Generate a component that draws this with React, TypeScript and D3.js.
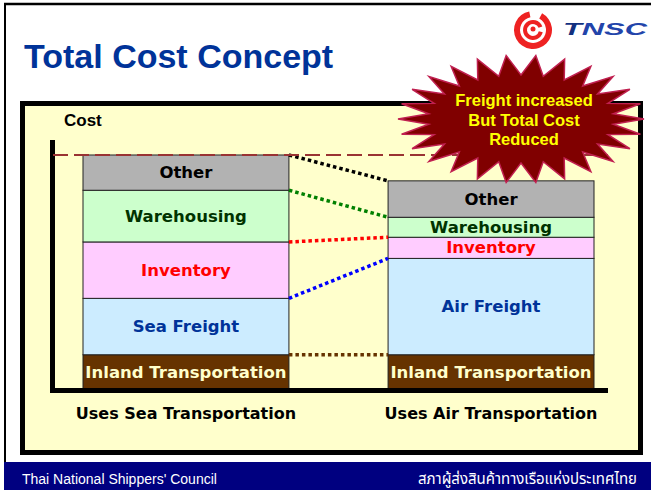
import React from 'react';
import * as d3 from 'd3';

// chart content
const categories = ['Uses Sea Transportation', 'Uses Air Transportation'];
const components = ['Inland Transportation', 'Freight', 'Inventory', 'Warehousing', 'Other'];
const seaLabels = ['Inland Transportation', 'Sea Freight', 'Inventory', 'Warehousing', 'Other'];
const airLabels = ['Inland Transportation', 'Air Freight', 'Inventory', 'Warehousing', 'Other'];
const seaCost = [15, 24, 24, 22, 15];
const airCost = [15, 41, 9, 8.5, 15.5];
const calloutLines = ['Freight increased', 'But Total Cost', 'Reduced'];

const fills = ['#663300', '#CCECFF', '#FFCCFF', '#CCFFCC', '#B2B2B2'];
const textColors = ['#FFFFCC', '#003399', '#FF0000', '#003300', '#000000'];
const linkColors = ['#663300', '#0000FF', '#FF0000', '#008000', '#000000'];

const W = 651;
const H = 490;
const verdana = "'DejaVu Sans', Verdana, sans-serif";
const tahoma = "'Liberation Sans', Arial, sans-serif";

const App = () => {
  const x = d3.scaleBand().domain(categories).range([83, 594]).paddingInner(0.325);
  const y = d3.scaleLinear().domain([0, 100]).range([390, 155]);

  const rows = categories.map((c, i) => {
    const r: any = { category: c };
    components.forEach((k, j) => { r[k] = (i === 0 ? seaCost : airCost)[j]; });
    return r;
  });
  const series = d3.stack().keys(components)(rows);
  const labelsFor = (i: number) => (i === 0 ? seaLabels : airLabels);

  const leftX = x(categories[0])! + x.bandwidth();
  const rightX = x(categories[1])!;

  // starburst callout
  const spikes = 26;
  const cx = 521, cy = 119;
  const starPts = d3.range(spikes * 2).map((i) => {
    const a = (i / (spikes * 2)) * 2 * Math.PI + Math.PI;
    const outer = i % 2 === 0;
    return [cx + (outer ? 123 : 93) * Math.cos(a), cy + (outer ? 64 : 44) * Math.sin(a)] as [number, number];
  });
  const starPath = d3.line().curve(d3.curveLinearClosed)(starPts) || '';

  const ring = d3.arc();

  return (
    <svg width={W} height={H} style={{ position: 'absolute', left: 0, top: 0, background: '#fff' }}>
      {/* slide frame */}
      <line x1={4} x2={W} y1={4} y2={4} stroke="#000" strokeWidth={2.5} />
      <line x1={5} x2={5} y1={4} y2={463} stroke="#000" strokeWidth={2} />

      <text x={24} y={68} fontFamily={tahoma} fontWeight="bold" fontSize={34} fill="#003399">
        Total Cost Concept
      </text>

      {/* logo */}
      <g transform="translate(533,30)" fill="#EE2222">
        <path d={ring({ innerRadius: 13, outerRadius: 19, startAngle: 0.5, endAngle: 2 * Math.PI - 0.2 } as any) || ''} />
        <path d={ring({ innerRadius: 6, outerRadius: 10, startAngle: 1.8, endAngle: 2 * Math.PI + 1.2 } as any) || ''} />
        <circle r={2.5} cy={-1} />
      </g>
      <text x={563} y={35} fontFamily={tahoma} fontWeight="bold" fontStyle="italic" fontSize={17}
        fill="#2244AA" textLength={84} lengthAdjust="spacingAndGlyphs">
        <tspan fill="#12307f">T</tspan>NSC
      </text>

      {/* chart box */}
      <rect x={22.5} y={103.5} width={618} height={349} fill="#FFFFCC" stroke="#000" strokeWidth={5} />

      <text x={64} y={126} fontFamily={tahoma} fontWeight="bold" fontSize={17} fill="#000">Cost</text>

      {/* stacked bars */}
      {series.map((s, k) => (
        <g key={s.key}>
          {s.map((d, i) => (
            <g key={i}>
              <rect x={x(categories[i])} y={y(d[1])} width={x.bandwidth()} height={y(d[0]) - y(d[1])}
                fill={fills[k]} stroke="#222" strokeWidth={1} />
              <text x={x(categories[i])! + x.bandwidth() / 2} y={(y(d[0]) + y(d[1])) / 2}
                textAnchor="middle" dominantBaseline="central" fontFamily={verdana} fontWeight="bold"
                fontSize={16.5} fill={textColors[k]}>
                {labelsFor(i)[k]}
              </text>
            </g>
          ))}
        </g>
      ))}

      {/* connectors */}
      {series.map((s, k) => (
        <line key={s.key} x1={leftX} y1={y(s[0][1])} x2={rightX} y2={y(s[1][1])}
          stroke={linkColors[k]} strokeWidth={3.5} strokeDasharray="3.5 3" />
      ))}

      {/* axes */}
      <line x1={52.5} x2={52.5} y1={140} y2={393} stroke="#000" strokeWidth={5} />
      <line x1={50} x2={608} y1={390.5} y2={390.5} stroke="#000" strokeWidth={5} />

      {/* total cost reference */}
      <line x1={53} x2={608} y1={y(100)} y2={y(100)} stroke="#993333" strokeWidth={2} strokeDasharray="15 6" />

      {categories.map((c) => (
        <text key={c} x={x(c)! + x.bandwidth() / 2} y={419} textAnchor="middle" fontFamily={verdana}
          fontWeight="bold" fontSize={16} fill="#000">
          {c}
        </text>
      ))}

      {/* callout */}
      <path d={starPath} fill="#800000" stroke="#C02050" strokeWidth={1.5} />
      {calloutLines.map((t, i) => (
        <text key={t} x={524} y={106 + i * 19.5} textAnchor="middle" fontFamily={tahoma} fontWeight="bold"
          fontSize={16.5} fill="#FFFF00">
          {t}
        </text>
      ))}

      {/* footer */}
      <rect x={4} y={462} width={W - 4} height={H - 462} fill="#000080" />
      <text x={22} y={484} fontFamily={tahoma} fontSize={14} fill="#fff">Thai National Shippers' Council</text>
      <text x={637} y={484} textAnchor="end" fontFamily="Tahoma, 'Noto Sans Thai', Loma, Garuda, sans-serif"
        fontSize={15} fill="#fff">
        สภาผู้ส่งสินค้าทางเรือแห่งประเทศไทย
      </text>
    </svg>
  );
};

export default App;
